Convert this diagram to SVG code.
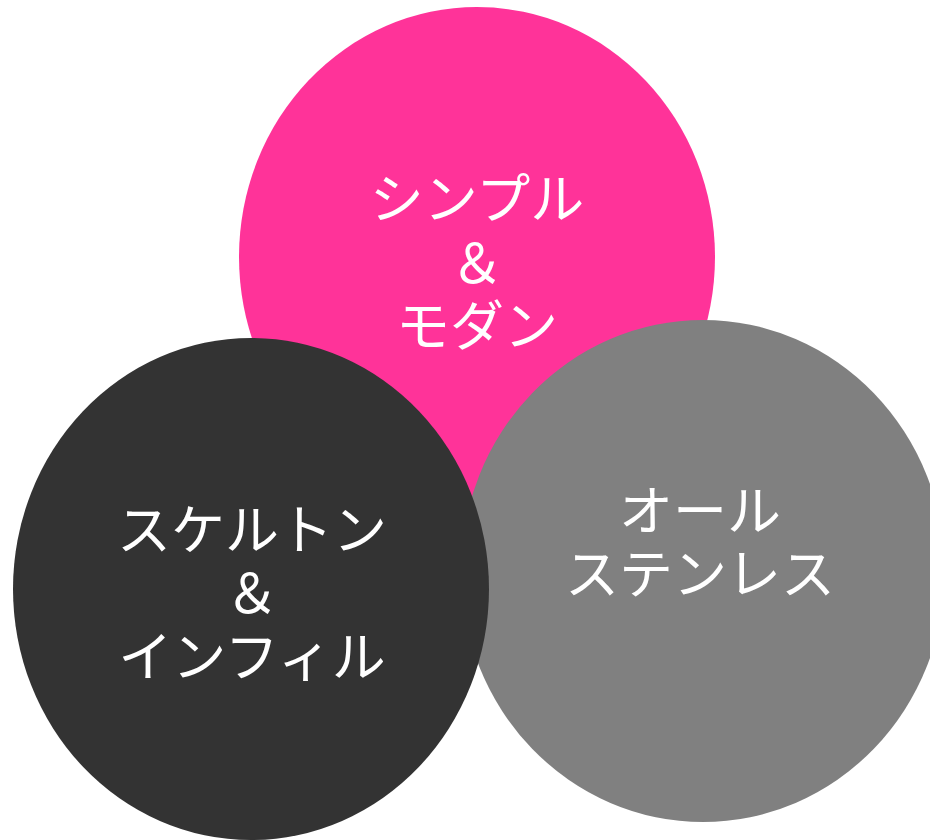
<svg xmlns="http://www.w3.org/2000/svg" width="930" height="840" viewBox="0 0 930 840">
<style>
.lbl{font-family:"Noto Sans CJK JP","Noto Sans",sans-serif;font-size:54px;fill:#ffffff;text-anchor:middle}
</style>
<rect width="930" height="840" fill="#ffffff"/>
<g id="node-simple">
<ellipse cx="477" cy="257" rx="238" ry="250" fill="#ff3399"/>
<text class="lbl" x="477" y="219">シンプル</text>
<text class="lbl" x="477" y="283">＆</text>
<text class="lbl" x="477" y="346">モダン</text>
</g>
<g id="node-stainless">
<ellipse cx="703" cy="571" rx="242" ry="251" fill="#808080"/>
<text class="lbl" x="700" y="531">オール</text>
<text class="lbl" x="700" y="594">ステンレス</text>
</g>
<g id="node-skeleton">
<ellipse cx="251" cy="589" rx="238" ry="251" fill="#333333"/>
<text class="lbl" x="252" y="550">スケルトン</text>
<text class="lbl" x="252" y="613">＆</text>
<text class="lbl" x="252" y="677">インフィル</text>
</g>
<g id="connectors"></g>
</svg>
